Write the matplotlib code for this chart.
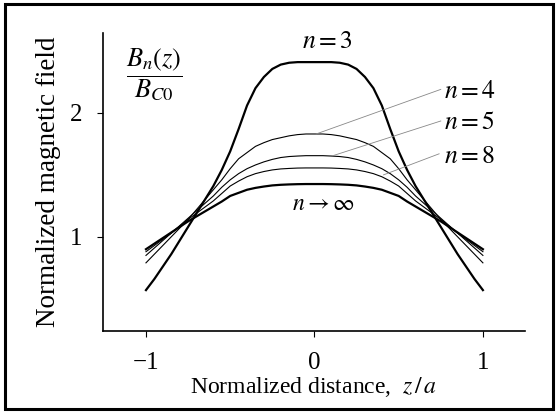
import matplotlib
matplotlib.use("Agg")
import matplotlib.pyplot as plt
from matplotlib.patches import Rectangle

plt.rcParams["font.family"] = ["Liberation Serif", "DejaVu Serif"]
plt.rcParams["mathtext.fontset"] = "stix"

# normalized distance z/a (left half, the curves are symmetric)
z_half = [-1.00, -0.95, -0.90, -0.85, -0.80, -0.75, -0.70, -0.65, -0.60, -0.55,
          -0.50, -0.45, -0.40, -0.35, -0.30, -0.25, -0.20, -0.15, -0.10, -0.05, 0.0]

# values, z from -1 to 0
b_n3 = [0.57, 0.66, 0.76, 0.86, 0.97, 1.08, 1.19, 1.30, 1.41, 1.54,
        1.69, 1.87, 2.06, 2.20, 2.29, 2.355, 2.39, 2.405, 2.41, 2.41, 2.41]
b_n4 = [0.79, 0.86, 0.93, 1.00, 1.07, 1.14, 1.22, 1.30, 1.38, 1.46,
        1.55, 1.63, 1.68, 1.73, 1.76, 1.785, 1.80, 1.815, 1.825, 1.83, 1.83]
b_n5 = [0.85, 0.91, 0.97, 1.03, 1.09, 1.15, 1.21, 1.27, 1.33, 1.40,
        1.46, 1.51, 1.55, 1.58, 1.605, 1.625, 1.64, 1.648, 1.652, 1.655, 1.655]
b_n8 = [0.88, 0.93, 0.98, 1.03, 1.085, 1.14, 1.19, 1.24, 1.29, 1.35,
        1.41, 1.45, 1.485, 1.51, 1.527, 1.54, 1.548, 1.552, 1.555, 1.556, 1.556]
b_inf = [0.90, 0.945, 0.99, 1.035, 1.08, 1.125, 1.165, 1.205, 1.245, 1.285,
         1.33, 1.355, 1.38, 1.395, 1.406, 1.415, 1.42, 1.423, 1.425, 1.426, 1.426]

x_ticks = [-1, 0, 1]
y_ticks = [1, 2]


def mirror(half):
    return half + half[-2::-1]


z = z_half + [-v for v in z_half[-2::-1]]

fig = plt.figure(figsize=(5.58, 4.12), dpi=100)
ax = fig.add_axes([0.1846, 0.1966, 0.9409 - 0.1846, 0.9199 - 0.1966])

ax.plot(z, mirror(b_n3), color="black", lw=1.6)
ax.plot(z, mirror(b_n4), color="black", lw=0.8)
ax.plot(z, mirror(b_n5), color="black", lw=0.8)
ax.plot(z, mirror(b_n8), color="black", lw=0.8)
ax.plot(z, mirror(b_inf), color="black", lw=1.6)

ax.set_xlim(-1.255, 1.25)
ax.set_ylim(0.24, 2.645)
ax.set_xticks(x_ticks)
ax.set_yticks(y_ticks)
ax.spines["top"].set_visible(False)
ax.spines["right"].set_visible(False)
for s in ["left", "bottom"]:
    ax.spines[s].set_linewidth(1.2)
ax.tick_params(direction="out", length=4, width=0.8, labelsize=18, pad=11)

ax.set_xlabel(r"Normalized distance,  $z\,/\,a$", fontsize=17, labelpad=1)
ax.set_ylabel("Normalized magnetic field", fontsize=19.5, labelpad=6)

# labels and leader lines
ax.text(-0.95, 2.31, r"$\dfrac{B_n(z)}{B_{C0}}$", fontsize=19, ha="center", va="center")
ax.text(0.08, 2.57, r"$n = 3$", fontsize=18.5, ha="center", va="center")
ax.text(0.77, 2.17, r"$n = 4$", fontsize=18.5, ha="left", va="center")
ax.text(0.77, 1.92, r"$n = 5$", fontsize=18.5, ha="left", va="center")
ax.text(0.77, 1.645, r"$n = 8$", fontsize=18.5, ha="left", va="center")
ax.text(0.055, 1.26, r"$n \rightarrow \infty$", fontsize=17, ha="center", va="center")

ax.plot([0.75, 0.01], [2.19, 1.83], color="#888888", lw=0.6)
ax.plot([0.75, 0.11], [1.935, 1.655], color="#888888", lw=0.6)
ax.plot([0.74, 0.41], [1.67, 1.50], color="#888888", lw=0.6)

# frame around the whole figure
fig.patches.append(Rectangle((5 / 558, 3 / 412), 548 / 558, 405 / 412,
                             transform=fig.transFigure, fill=False,
                             edgecolor="black", lw=2.2))

fig.savefig("out.png", dpi=100)
